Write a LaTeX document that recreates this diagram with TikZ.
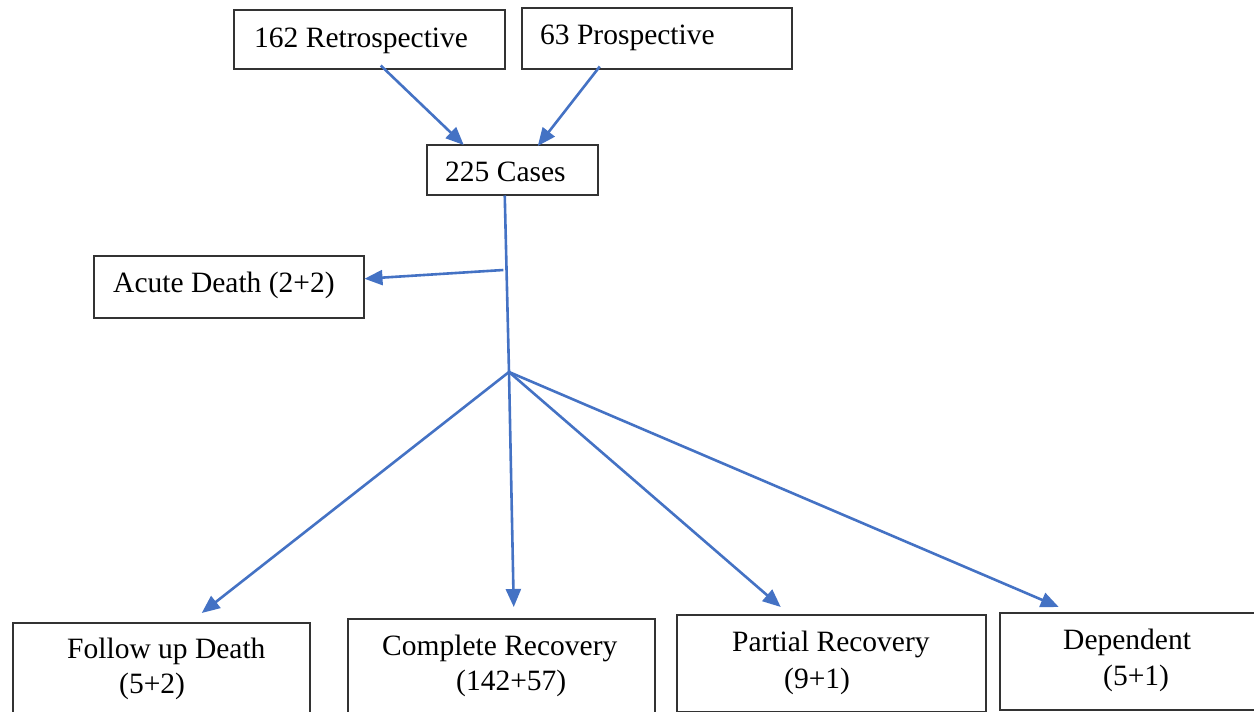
\documentclass[tikz,border=0pt]{standalone}
\usepackage{fontspec}
\setmainfont{Liberation Serif}
\usetikzlibrary{arrows.meta,calc}
\definecolor{arrblue}{HTML}{4472C4}
\definecolor{boxline}{HTML}{333333}
\begin{document}
\begin{tikzpicture}[x=1pt,y=-1pt,
  box/.style={draw=boxline,line width=1.5pt,anchor=north west,inner sep=0pt},
  txt/.style={anchor=base west,inner sep=0pt,font=\fontsize{29.5}{34}\selectfont},
  conn/.style={draw=arrblue,line width=2.6pt},
  arr/.style={conn,-{Triangle[length=18pt,width=15pt]}}]
\useasboundingbox (0,0) rectangle (1254,712);
\clip (0,0) rectangle (1254,712);
% boxes
\node[box,minimum width=271pt,minimum height=59pt] (retro) at (233,9) {};
\node[box,minimum width=270pt,minimum height=61pt] (prosp) at (521,7) {};
\node[box,minimum width=171pt,minimum height=50pt] (cases) at (426,144) {};
\node[box,minimum width=270pt,minimum height=62pt] (acute) at (93,255) {};
\node[box,minimum width=297pt,minimum height=110pt] (fol) at (12,622) {};
\node[box,minimum width=307pt,minimum height=110pt] (comp) at (347,618) {};
\node[box,minimum width=309pt,minimum height=97pt] (part) at (676,614) {};
\node[box,minimum width=280pt,minimum height=97pt] (dep) at (999,612) {};
% texts
\node[txt] (retrot) at (254,47) {162 Retrospective};
\node[txt] (prospt) at (540,45) {63 Prospective};
\node[txt] (casest) at (445,181) {225 Cases};
\node[txt] (acutet) at (113,292) {Acute Death (2+2)};
\node[txt] (folt1) at (67,658) {Follow up Death};
\node[txt] (folt2) at (119,693) {(5+2)};
\node[txt] (compt1) at (382,655) {Complete Recovery};
\node[txt] (compt2) at (456,690) {(142+57)};
\node[txt] (partt1) at (732,651) {Partial Recovery};
\node[txt] (partt2) at (784,688) {(9+1)};
\node[txt] (dept1) at (1063,649) {Dependent};
\node[txt] (dept2) at (1103,685) {(5+1)};
% junctions
\coordinate (jn) at (503.3,270);
\coordinate (split) at (509,372);
% connectors
\draw[arr] ($(retro.south)+(11.5,-4)$) -- ($(cases.north)+(-48.5,1)$);
\draw[arr] ($(prosp.south)+(-57,-3)$) -- ($(cases.north)+(25.5,2)$);
\draw[conn] ($(cases.south)+(-7.5,0)$) -- (split);
\draw[arr] (jn) -- ($(acute.east)+(0,-8)$);
\draw[arr] (split) -- ($(fol.north)+(40.5,-9)$);
\draw[arr] (split) -- ($(comp.north)+(12.5,-11)$);
\draw[arr] (split) -- ($(part.north)+(-50.5,-7)$);
\draw[arr] (split) -- ($(dep.north)+(-81,-5)$);
\end{tikzpicture}
\end{document}
